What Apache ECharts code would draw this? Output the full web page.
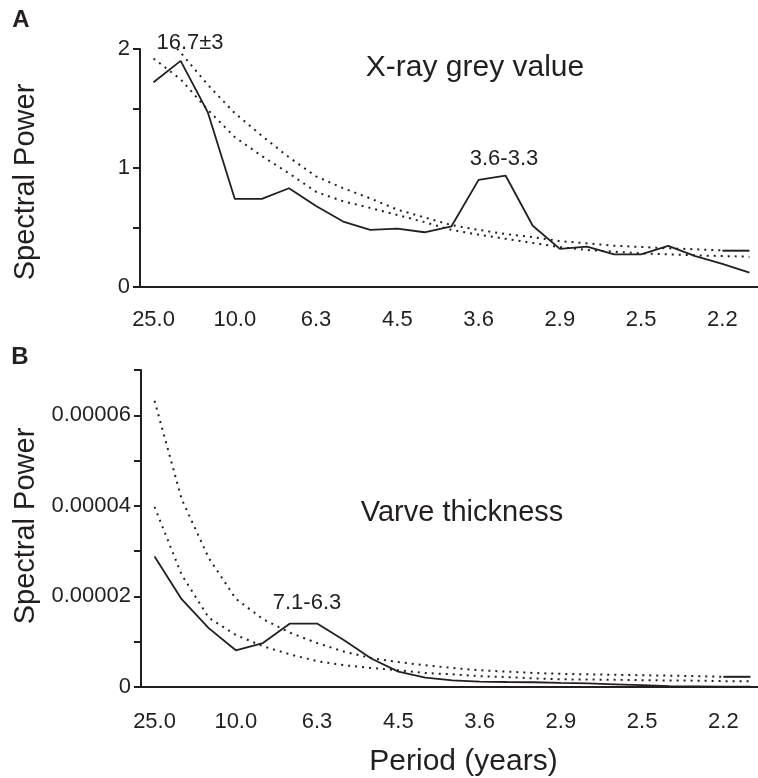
<!DOCTYPE html>
<html>
<head>
<meta charset="utf-8">
<script src="https://cdn.jsdelivr.net/npm/echarts@6/dist/echarts.min.js"></script>
<style>
    html, body { margin: 0; padding: 0; background: #fff; overflow: hidden; }
    /* the plot runs past the right edge of the picture, so the canvas is a bit wider than the window */
    .box { width: 790px; height: 778px; }
</style>
</head>
<body>
<div class="box"></div>
<script>
// period (years) for each frequency step, only every third one is labelled
const periods = ["25.0","16.7","12.5","10.0","8.3","7.1","6.3","5.6","5.0","4.5","4.2","3.8",
                 "3.6","3.3","3.1","2.9","2.8","2.6","2.5","2.4","2.3","2.2","2.1"];

// A: X-ray grey value
const greyPower = [1.72,1.90,1.47,0.74,0.74,0.83,0.68,0.55,0.48,0.49,0.46,0.51,
                   0.90,0.935,0.515,0.32,0.34,0.275,0.275,0.345,0.26,0.195,0.12];
const greyUpper = [2.22,1.97,1.70,1.46,1.27,1.09,0.93,0.83,0.745,0.65,0.585,0.52,
                   0.48,0.445,0.42,0.385,0.367,0.347,0.336,0.325,0.317,0.308,null];
const greyLower = [1.92,1.745,1.49,1.26,1.10,0.955,0.80,0.72,0.665,0.605,0.545,0.48,
                   0.44,0.405,0.37,0.335,0.311,0.297,0.283,0.275,0.266,0.26,0.255];
const greyTail = [null,null,null,null,null,null,null,null,null,null,null,null,
                  null,null,null,null,null,null,null,null,null,0.305,0.305];

// B: varve thickness
const varvePower = [2.88e-5,1.94e-5,1.30e-5,0.81e-5,0.97e-5,1.40e-5,1.40e-5,1.03e-5,0.63e-5,0.34e-5,0.205e-5,0.146e-5,
                    0.117e-5,0.11e-5,0.105e-5,0.09e-5,0.08e-5,0.06e-5,0.04e-5,0.02e-5,0.015e-5,0.01e-5,0.01e-5];
const varveUpper = [6.32e-5,4.15e-5,2.85e-5,1.95e-5,1.50e-5,1.20e-5,0.97e-5,0.78e-5,0.64e-5,0.55e-5,0.48e-5,0.42e-5,
                    0.37e-5,0.34e-5,0.31e-5,0.29e-5,0.28e-5,0.27e-5,0.26e-5,0.25e-5,0.24e-5,0.225e-5,null];
const varveLower = [3.98e-5,2.48e-5,1.53e-5,1.15e-5,0.90e-5,0.72e-5,0.57e-5,0.48e-5,0.42e-5,0.37e-5,0.31e-5,0.28e-5,
                    0.24e-5,0.22e-5,0.19e-5,0.17e-5,0.165e-5,0.16e-5,0.15e-5,0.145e-5,0.14e-5,0.13e-5,0.125e-5];
const varveTail = [null,null,null,null,null,null,null,null,null,null,null,null,
                   null,null,null,null,null,null,null,null,null,0.225e-5,0.225e-5];

const ink = "#231f20";
const font = "Liberation Sans, Arial, Helvetica, sans-serif";

function xAxisFor(idx, name, margin){
    return {
        type:"category",
        gridIndex:idx,
        data:periods,
        boundaryGap:true,
        name:name,
        nameLocation:"middle",
        nameGap:60,
        nameTextStyle:{color:ink, fontSize:30, fontFamily:font, padding:[0,0,0,22]},
        axisLine:{lineStyle:{color:ink, width:2}},
        axisTick:{interval:0, length:7, lineStyle:{color:ink, width:2}},
        axisLabel:{interval:2, color:ink, fontSize:22, fontFamily:font, margin:margin},
        splitLine:{show:false}
    };
}

function yAxisFor(idx, max, step, fmt){
    return {
        type:"value",
        gridIndex:idx,
        min:0,
        max:max,
        interval:step,
        axisLine:{show:true, lineStyle:{color:ink, width:2}},
        axisTick:{show:true, length:7, lineStyle:{color:ink, width:2}},
        axisLabel:{color:ink, fontSize:22, fontFamily:font, margin:10, formatter:fmt},
        splitLine:{show:false}
    };
}

function line(x, y, data, dotted, w){
    return {
        type:"line",
        xAxisIndex:x,
        yAxisIndex:y,
        data:data,
        symbol:"none",
        connectNulls:false,
        silent:true,
        lineStyle:{color:ink, width:w, type:dotted ? [2,5] : "solid"}
    };
}

function label(text, x, y, size, rotation){
    return {type:"text", x:x, y:y, rotation:rotation || 0,
        style:{text:text, x:0, y:0, align:"center", verticalAlign:"middle", fill:ink, font:size + "px " + font}};
}

let mycharts = echarts.init(document.querySelector(".box"));
mycharts.setOption({
    backgroundColor:"#fff",
    animation:false,
    grid:[
        {left:140, top:49, width:623, height:238},
        {left:141, top:370, width:623, height:318}
    ],
    xAxis:[xAxisFor(0, "", 22), xAxisFor(1, "Period (years)", 24)],
    yAxis:[
        yAxisFor(0, 2, 0.5, function(v){ return v % 1 === 0 ? String(v) : ""; }),
        yAxisFor(1, 0.00007, 0.00001, function(v){
            let n = Math.round(v / 0.00001);
            if(n === 0) return "0";
            return n % 2 === 0 ? (n * 0.00001).toFixed(5) : "";
        })
    ],
    graphic:[
        label("A", 21, 20, "bold 24"),
        label("B", 20, 357, "bold 24"),
        label("Spectral Power", 26, 182, 29, Math.PI / 2),
        label("Spectral Power", 26, 526, 29, Math.PI / 2),
        label("X-ray grey value", 475, 68, 30),
        label("Varve thickness", 462, 513, 29),
        label("16.7±3", 190, 43, 22),
        label("3.6-3.3", 504, 159, 22),
        label("7.1-6.3", 307, 603, 22)
    ],
    series:[
        line(0, 0, greyUpper, true, 2),
        line(0, 0, greyLower, true, 2),
        line(0, 0, greyTail, false, 2),
        line(0, 0, greyPower, false, 1.8),
        line(1, 1, varveUpper, true, 2),
        line(1, 1, varveLower, true, 2),
        line(1, 1, varveTail, false, 2),
        line(1, 1, varvePower, false, 1.8)
    ]
});
</script>
</body>
</html>
